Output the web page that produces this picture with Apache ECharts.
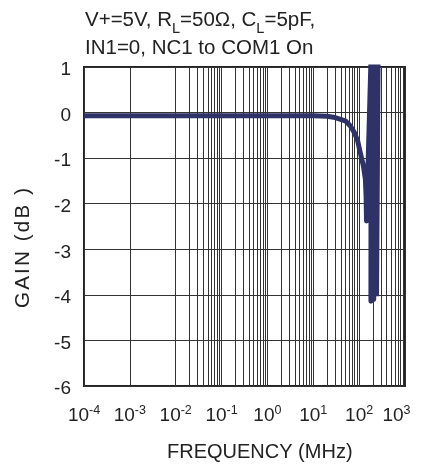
<!DOCTYPE html>
<html>
<head>
<meta charset="utf-8">
<script src="https://cdn.jsdelivr.net/npm/echarts@6/dist/echarts.min.js"></script>
<style>
html,body{margin:0;padding:0;background:#fff;}
#chart{width:422px;height:468px;}
</style>
</head>
<body>
<div id="chart"></div>
<script>
// Frequency (MHz) and gain (dB)
var freqMHz = [0.0001, 0.001, 0.01, 0.1, 1, 10, 20, 30, 50, 64, 79, 93, 106, 124, 137, 142, 145, 183, 181, 220, 208, 260, 240];
var gainDb  = [-0.07, -0.07, -0.07, -0.07, -0.07, -0.07, -0.08, -0.11, -0.18, -0.29, -0.44, -0.62, -0.88, -1.17, -1.46, -1.83, -2.38, 1.3, -4.14, 1.3, -4.1, 1.3, -4.03];

// Axis settings
var xMin = 0.0001, xMax = 1000;
var yMin = -6, yMax = 1, yStep = 1;
var decadeExps = [-4, -3, -2, -1, 0, 1, 2];
var minorMultipliers = [2, 3, 4, 5, 6, 7, 8, 9];

var titleLine1 = '{n|V+=5V, R}{sub|L}{n|=50\u03A9, C}{sub|L}{n|=5pF,}';
var titleLine2 = 'IN1=0, NC1 to COM1 On';
var xName = 'FREQUENCY (MHz)';
var yName = 'GAIN (dB )';

var FONT = 'Liberation Sans, Arial, sans-serif';
var TXT = '#222';
var GRIDC = '#333';
var LINEC = '#2f3266';

var traceData = freqMHz.map(function (f, i) { return [f, gainDb[i]]; });
var minorLines = [];
decadeExps.forEach(function (e) {
  minorMultipliers.forEach(function (m) {
    minorLines.push({ xAxis: m * Math.pow(10, e) });
  });
});
var yNameRich = yName.split('').map(function (ch) { return '{c|' + ch + '}'; }).join('');

var chart = echarts.init(document.getElementById('chart'), null, { renderer: 'canvas' });
chart.setOption({
  animation: false,
  backgroundColor: '#fff',
  title: [
    { text: titleLine1, left: 85, top: 5, padding: 0,
      textStyle: { fontFamily: FONT, fontWeight: 'normal', color: TXT, fontSize: 20.5,
        rich: {
          n: { fontFamily: FONT, fontSize: 20.5, color: TXT, lineHeight: 31 },
          sub: { fontFamily: FONT, fontSize: 14.5, color: TXT, lineHeight: 14, verticalAlign: 'bottom' }
        } } },
    { text: titleLine2, left: 85, top: 38, padding: 0,
      textStyle: { fontFamily: FONT, fontWeight: 'normal', color: TXT, fontSize: 20.5 } },
    { text: xName, left: 167, top: 442, padding: 0,
      textStyle: { fontFamily: FONT, fontWeight: 'normal', color: TXT, fontSize: 20 } }
  ],
  graphic: [
    { type: 'text', x: 23, y: 248, rotation: Math.PI / 2,
      style: { text: yNameRich, fill: TXT, align: 'center', verticalAlign: 'middle',
        rich: { c: { fontFamily: FONT, fontSize: 20.5, color: TXT, padding: [0, 1.1, 0, 1.1] } } } }
  ],
  grid: { left: 84, right: 17, top: 67, bottom: 82, show: true, borderColor: '#222', borderWidth: 2, backgroundColor: 'transparent' },
  xAxis: {
    type: 'log', logBase: 10, min: xMin, max: xMax,
    axisLine: { show: false }, axisTick: { show: false },
    splitLine: { show: true, lineStyle: { color: GRIDC, width: 1 } },
    axisLabel: {
      margin: 18,
      formatter: function (v) {
        var e = Math.round(Math.log10(v));
        return '{b|10}{s|' + e + '}' + (e === 3 ? '{p|}' : '');
      },
      rich: {
        b: { fontFamily: FONT, fontSize: 19, color: TXT, lineHeight: 23 },
        s: { fontFamily: FONT, fontSize: 12.5, color: TXT, lineHeight: 12, verticalAlign: 'top' },
        p: { width: 17 }
      }
    }
  },
  yAxis: {
    type: 'value', min: yMin, max: yMax, interval: yStep,
    axisLine: { show: false }, axisTick: { show: false },
    splitLine: { show: true, lineStyle: { color: GRIDC, width: 1 } },
    axisLabel: {
      margin: 13,
      formatter: function (v) { return '{v|' + v + '}'; },
      rich: { v: { fontFamily: FONT, fontSize: 19, color: TXT, padding: [6, 0, 0, 0] } }
    }
  },
  series: [
    { type: 'line', data: [], z: 1, silent: true,
      markLine: { silent: true, symbol: ['none', 'none'], label: { show: false }, animation: false,
        lineStyle: { color: GRIDC, width: 1, type: 'solid' }, emphasis: { disabled: true },
        data: minorLines } },
    { type: 'line', data: traceData, z: 5, showSymbol: false, symbol: 'none', smooth: false, clip: true,
      lineStyle: { color: LINEC, width: 5, join: 'round', cap: 'butt' } }
  ]
});
</script>
</body>
</html>
